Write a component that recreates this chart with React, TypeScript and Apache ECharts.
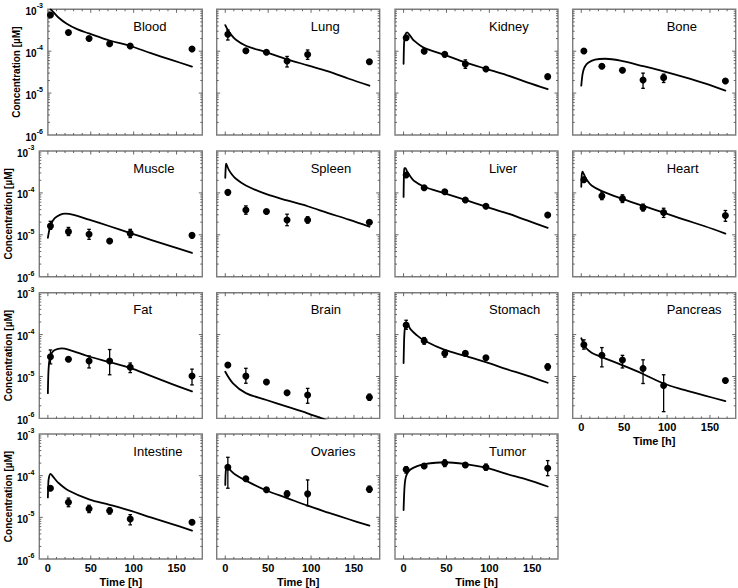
import React, { useEffect, useRef } from "react";
import * as echarts from "echarts";

const FONT = "'Liberation Sans', Arial, Helvetica, sans-serif";

// ---------- data ----------
const organNames = [
  "Blood", "Lung", "Kidney", "Bone",
  "Muscle", "Spleen", "Liver", "Heart",
  "Fat", "Brain", "Stomach", "Pancreas",
  "Intestine", "Ovaries", "Tumor",
];

const xTickLabels = [0, 50, 100, 150];
const yDecades = [1e-6, 1e-5, 1e-4, 1e-3];

// observed: [time h, mean, low, high]  (low === high -> no error bar)
const bloodObs = [[3, 7.3e-4, 7.3e-4, 7.3e-4], [24, 2.8e-4, 2.8e-4, 2.8e-4], [48, 2.0e-4, 2.0e-4, 2.0e-4], [72, 1.5e-4, 1.5e-4, 1.5e-4], [96, 1.33e-4, 1.33e-4, 1.33e-4], [168, 1.13e-4, 1.13e-4, 1.13e-4]];
const bloodModel = [[3, 1.0e-3], [5, 9.2e-4], [12, 6.45e-4], [22, 4.5e-4], [34, 3.35e-4], [48, 2.65e-4], [72, 1.8e-4], [96, 1.33e-4], [120, 9.0e-5], [144, 6.2e-5], [168, 4.3e-5]];

const lungObs = [[3, 2.53e-4, 1.85e-4, 3.2e-4], [24, 1.03e-4, 9.3e-5, 1.12e-4], [48, 9.4e-5, 9.4e-5, 9.4e-5], [72, 5.85e-5, 4.2e-5, 7.5e-5], [96, 8.3e-5, 6.4e-5, 1.07e-4], [168, 5.6e-5, 5.0e-5, 6.3e-5]];
const lungModel = [[0, 4.2e-4], [3, 3.2e-4], [6, 2.6e-4], [12, 1.9e-4], [24, 1.35e-4], [48, 9.4e-5], [72, 6.4e-5], [96, 4.6e-5], [120, 3.3e-5], [144, 2.2e-5], [168, 1.5e-5]];

const kidneyObs = [[3, 2.1e-4, 1.85e-4, 2.35e-4], [24, 1.0e-4, 1.0e-4, 1.0e-4], [48, 8.4e-5, 8.4e-5, 8.4e-5], [72, 4.95e-5, 3.9e-5, 6.2e-5], [96, 3.77e-5, 3.77e-5, 3.77e-5], [168, 2.47e-5, 2.47e-5, 2.47e-5]];
const kidneyModel = [[0, 5e-5], [0.5, 1.4e-4], [1, 2.0e-4], [2, 2.5e-4], [4, 2.8e-4], [8, 2.3e-4], [12, 1.8e-4], [24, 1.2e-4], [48, 8.2e-5], [72, 5.4e-5], [96, 3.8e-5], [120, 2.7e-5], [144, 1.8e-5], [168, 1.25e-5]];

const boneObs = [[3, 1.01e-4, 9.0e-5, 1.13e-4], [24, 4.36e-5, 4.36e-5, 4.36e-5], [48, 3.5e-5, 3.5e-5, 3.5e-5], [72, 2.06e-5, 1.3e-5, 3.0e-5], [96, 2.34e-5, 1.79e-5, 2.84e-5], [168, 1.95e-5, 1.95e-5, 1.95e-5]];
const boneModel = [[0, 1.5e-5], [1, 2.4e-5], [2, 3.2e-5], [4, 4.2e-5], [8, 5.3e-5], [16, 6.3e-5], [28, 6.6e-5], [48, 5.8e-5], [72, 4.4e-5], [96, 3.3e-5], [120, 2.4e-5], [144, 1.7e-5], [168, 1.15e-5]];

const muscleObs = [[3, 1.62e-5, 1.35e-5, 2.1e-5], [24, 1.19e-5, 9.6e-6, 1.5e-5], [48, 1.03e-5, 7.8e-6, 1.35e-5], [72, 7.1e-6, 7.1e-6, 7.1e-6], [96, 1.08e-5, 8.6e-6, 1.35e-5], [168, 9.7e-6, 8.8e-6, 1.07e-5]];
const muscleModel = [[0, 8.5e-6], [2, 1.4e-5], [4, 1.85e-5], [8, 2.5e-5], [14, 3.0e-5], [20, 3.2e-5], [30, 3.0e-5], [48, 2.3e-5], [72, 1.6e-5], [96, 1.1e-5], [120, 7.6e-6], [144, 5.3e-6], [168, 3.7e-6]];

const spleenObs = [[3, 1.03e-4, 1.03e-4, 1.03e-4], [24, 3.9e-5, 3.1e-5, 4.9e-5], [48, 3.6e-5, 3.6e-5, 3.6e-5], [72, 2.25e-5, 1.65e-5, 3.1e-5], [96, 2.25e-5, 1.9e-5, 2.7e-5], [168, 1.99e-5, 1.99e-5, 1.99e-5]];
const spleenModel = [[0, 2.3e-4], [0.5, 4.0e-4], [1, 5.0e-4], [2, 4.5e-4], [4, 3.6e-4], [8, 2.7e-4], [12, 2.2e-4], [24, 1.5e-4], [48, 9.3e-5], [72, 6.6e-5], [96, 4.8e-5], [120, 3.3e-5], [144, 2.3e-5], [168, 1.56e-5]];

const liverObs = [[3, 2.67e-4, 2.4e-4, 2.95e-4], [24, 1.33e-4, 1.2e-4, 1.45e-4], [48, 1.07e-4, 1.07e-4, 1.07e-4], [72, 6.8e-5, 6.8e-5, 6.8e-5], [96, 4.8e-5, 4.8e-5, 4.8e-5], [168, 2.97e-5, 2.97e-5, 2.97e-5]];
const liverModel = [[0, 8e-5], [0.5, 3.0e-4], [1, 3.9e-4], [2, 3.9e-4], [4, 3.3e-4], [8, 2.45e-4], [12, 1.95e-4], [24, 1.4e-4], [48, 9.8e-5], [72, 6.8e-5], [96, 4.7e-5], [120, 3.3e-5], [144, 2.2e-5], [168, 1.47e-5]];

const heartObs = [[3, 2.07e-4, 1.85e-4, 2.3e-4], [24, 8.4e-5, 6.9e-5, 1.05e-4], [48, 7.3e-5, 5.9e-5, 9.0e-5], [72, 4.45e-5, 3.7e-5, 5.4e-5], [96, 3.4e-5, 2.6e-5, 4.3e-5], [168, 2.9e-5, 2.1e-5, 3.8e-5]];
const heartModel = [[0, 1.4e-4], [0.5, 2.6e-4], [1.5, 3.2e-4], [3, 2.8e-4], [6, 2.1e-4], [12, 1.5e-4], [24, 1.1e-4], [48, 7.2e-5], [72, 4.9e-5], [96, 3.4e-5], [120, 2.3e-5], [144, 1.6e-5], [168, 1.07e-5]];

const fatObs = [[3, 2.97e-5, 2.0e-5, 4.3e-5], [24, 2.57e-5, 2.3e-5, 2.85e-5], [48, 2.34e-5, 1.6e-5, 3.1e-5], [72, 2.34e-5, 1.1e-5, 4.4e-5], [96, 1.66e-5, 1.24e-5, 2.1e-5], [168, 1.03e-5, 6.3e-6, 1.5e-5]];
const fatModel = [[0, 4e-6], [0.5, 1.1e-5], [1, 1.7e-5], [2, 2.6e-5], [4, 3.5e-5], [8, 4.3e-5], [16, 4.7e-5], [24, 4.4e-5], [48, 3.0e-5], [72, 2.2e-5], [96, 1.6e-5], [120, 1.03e-5], [144, 6.7e-6], [168, 4.4e-6]];

const brainObs = [[3, 1.88e-5, 1.88e-5, 1.88e-5], [24, 1.02e-5, 6.9e-6, 1.57e-5], [48, 7.4e-6, 7.4e-6, 7.4e-6], [72, 4.1e-6, 4.1e-6, 4.1e-6], [96, 3.6e-6, 2.3e-6, 5.2e-6], [168, 3.2e-6, 2.7e-6, 3.8e-6]];
const brainModel = [[0, 1.3e-5], [9, 6.9e-6], [24, 4.0e-6], [48, 2.75e-6], [72, 1.9e-6], [96, 1.32e-6], [120, 8.8e-7]];

const stomachObs = [[3, 1.69e-4, 1.34e-4, 2.2e-4], [24, 7.1e-5, 5.9e-5, 8.5e-5], [48, 3.56e-5, 2.9e-5, 4.3e-5], [72, 3.56e-5, 3.56e-5, 3.56e-5], [96, 2.8e-5, 2.8e-5, 2.8e-5], [168, 1.71e-5, 1.42e-5, 2.0e-5]];
const stomachModel = [[0, 2.1e-5], [0.5, 6e-5], [1, 1.1e-4], [2, 1.6e-4], [4, 1.8e-4], [8, 1.35e-4], [15, 9.8e-5], [24, 7.2e-5], [48, 4.3e-5], [72, 3.1e-5], [96, 2.2e-5], [120, 1.5e-5], [144, 1.05e-5], [168, 7.1e-6]];

const pancreasObs = [[3, 5.7e-5, 4.5e-5, 7.5e-5], [24, 3.2e-5, 1.7e-5, 4.9e-5], [48, 2.48e-5, 1.6e-5, 3.2e-5], [72, 1.56e-5, 6.8e-6, 2.5e-5], [96, 6.1e-6, 1.45e-6, 1.1e-5], [168, 8e-6, 8e-6, 8e-6]];
const pancreasModel = [[0, 8.2e-5], [2, 6.5e-5], [4, 5.2e-5], [12, 3.7e-5], [24, 2.9e-5], [48, 1.85e-5], [72, 1.15e-5], [96, 6.8e-6], [120, 4.8e-6], [144, 3.5e-6], [168, 2.6e-6]];

const intestineObs = [[3, 5.0e-5, 5.0e-5, 5.0e-5], [24, 2.31e-5, 1.8e-5, 2.9e-5], [48, 1.6e-5, 1.3e-5, 1.95e-5], [72, 1.44e-5, 1.2e-5, 1.7e-5], [96, 9.1e-6, 6.6e-6, 1.16e-5], [168, 7.6e-6, 7.6e-6, 7.6e-6]];
const intestineModel = [[0, 3e-5], [0.5, 6.5e-5], [1, 8.5e-5], [3, 1.1e-4], [6, 9.5e-5], [12, 6.8e-5], [24, 4.4e-5], [48, 2.7e-5], [72, 2.0e-5], [96, 1.45e-5], [120, 1.0e-5], [144, 7.0e-6], [168, 4.8e-6]];

const ovariesObs = [[3, 1.59e-4, 5.0e-5, 2.76e-4], [24, 8.4e-5, 8.4e-5, 8.4e-5], [48, 4.57e-5, 4.57e-5, 4.57e-5], [72, 3.66e-5, 3.1e-5, 4.3e-5], [96, 3.66e-5, 1.9e-5, 7.9e-5], [168, 4.7e-5, 4.0e-5, 5.6e-5]];
const ovariesModel = [[0, 6e-5], [0.5, 1.2e-4], [1.5, 1.7e-4], [3, 1.6e-4], [6, 1.35e-4], [12, 1.05e-4], [24, 7.6e-5], [48, 4.4e-5], [72, 2.9e-5], [96, 1.9e-5], [120, 1.3e-5], [144, 9e-6], [168, 6.3e-6]];

const tumorObs = [[3, 1.4e-4, 1.15e-4, 1.65e-4], [24, 1.7e-4, 1.5e-4, 1.9e-4], [48, 2.0e-4, 1.65e-4, 2.4e-4], [72, 1.8e-4, 1.6e-4, 2.0e-4], [96, 1.6e-4, 1.35e-4, 1.9e-4], [168, 1.5e-4, 1.0e-4, 2.3e-4]];
const tumorModel = [[0, 1.5e-5], [1, 5e-5], [2, 8e-5], [4, 1.1e-4], [8, 1.4e-4], [16, 1.7e-4], [24, 1.9e-4], [48, 2.1e-4], [72, 1.9e-4], [96, 1.55e-4], [120, 1.1e-4], [144, 8e-5], [168, 5.5e-5]];

const obsList = [bloodObs, lungObs, kidneyObs, boneObs, muscleObs, spleenObs, liverObs, heartObs, fatObs, brainObs, stomachObs, pancreasObs, intestineObs, ovariesObs, tumorObs];
const modelList = [bloodModel, lungModel, kidneyModel, boneModel, muscleModel, spleenModel, liverModel, heartModel, fatModel, brainModel, stomachModel, pancreasModel, intestineModel, ovariesModel, tumorModel];

// ---------- layout ----------
const colLeft = [39.3, 216.7, 395, 572.7];
const rowTop = [9.3, 151, 292.7, 434];
const PW = 163;
const PH = 125.7;
const X_MIN = -10;
const X_MAX = 180;
const PX_PER_H = PW / (X_MAX - X_MIN);
const FRAME = "#7c7c7c";
const TICK = "#555";

function buildOption() {
  const grid: any[] = [];
  const xAxis: any[] = [];
  const yAxis: any[] = [];
  const series: any[] = [];
  const graphic: any[] = [];

  organNames.forEach((name, i) => {
    const r = Math.floor(i / 4);
    const c = i % 4;
    const xmin = name === "Blood" ? 0 : X_MIN;
    const shift = (xmin - X_MIN) * PX_PER_H;
    const left = colLeft[c] + shift;
    const width = PW - shift;
    grid.push({
      left, top: rowTop[r], width, height: PH,
      show: true, borderColor: FRAME, borderWidth: 1.4, backgroundColor: "#fff",
      containLabel: false,
    });
    const showX = r === 3 || i === 11;
    const showY = c === 0;
    xAxis.push({
      gridIndex: i, type: "value", min: xmin, max: X_MAX, splitNumber: 4,
      axisLine: { show: false }, axisTick: { show: false }, splitLine: { show: false },
      axisLabel: {
        show: showX, showMinLabel: false, showMaxLabel: false, margin: 3,
        formatter: (v: number) => (xTickLabels.includes(v) ? String(v) : ""),
        fontFamily: FONT, fontSize: 11, fontWeight: "bold", color: "#000",
      },
      name: showX ? "Time [h]" : "", nameLocation: "middle", nameGap: 17,
      nameTextStyle: { fontFamily: FONT, fontSize: 11, fontWeight: "bold", color: "#000" },
    });
    yAxis.push({
      gridIndex: i, type: "log", logBase: 10, min: 1e-6, max: 1e-3,
      axisLine: { show: false }, axisTick: { show: false }, splitLine: { show: false },
      minorTick: { show: false },
      axisLabel: {
        show: showY, margin: 5,
        formatter: (v: number) => `{b|10}{s|${Math.round(Math.log10(v))}}`,
        rich: {
          b: { fontFamily: FONT, fontSize: 10, fontWeight: "bold", color: "#000", lineHeight: 14, verticalAlign: "bottom" },
          s: { fontFamily: FONT, fontSize: 7, fontWeight: "bold", color: "#000", lineHeight: 14, verticalAlign: "top" },
        },
      },
      name: showY ? "Concentration [µM]" : "", nameLocation: "middle", nameRotate: 90, nameGap: 25,
      nameTextStyle: { fontFamily: FONT, fontSize: 10, fontWeight: "bold", color: "#000" },
    });

    // frame ticks (all four sides)
    const tickData: number[][] = [];
    for (let t = xmin; t <= X_MAX; t += 10) {
      if (t === xmin || t === X_MAX) continue;
      tickData.push([t, 1e-6, xTickLabels.includes(t) ? 1 : 0, 0]);
    }
    yDecades.forEach((d, k) => {
      if (k > 0 && k < yDecades.length - 1) tickData.push([xmin, d, 1, 1]);
      if (k < yDecades.length - 1) {
        for (let m = 2; m <= 9; m++) tickData.push([xmin, d * m, 0, 1]);
      }
    });
    series.push({
      type: "custom", xAxisIndex: i, yAxisIndex: i, silent: true, z: 1,
      data: tickData,
      renderItem: (params: any, api: any) => {
        const cs = params.coordSys;
        const major = api.value(2) === 1;
        const len = major ? 3.5 : 2;
        const st = { stroke: TICK, lineWidth: 0.9 };
        if (api.value(3) === 0) {
          const x = api.coord([api.value(0), 1e-6])[0];
          return {
            type: "group", children: [
              { type: "line", shape: { x1: x, y1: cs.y + cs.height, x2: x, y2: cs.y + cs.height - len }, style: st },
              { type: "line", shape: { x1: x, y1: cs.y, x2: x, y2: cs.y + len }, style: st },
            ],
          };
        }
        const y = api.coord([api.value(0), api.value(1)])[1];
        return {
          type: "group", children: [
            { type: "line", shape: { x1: cs.x, y1: y, x2: cs.x + len, y2: y }, style: st },
            { type: "line", shape: { x1: cs.x + cs.width, y1: y, x2: cs.x + cs.width - len, y2: y }, style: st },
          ],
        };
      },
    });

    // model curve
    series.push({
      type: "line", xAxisIndex: i, yAxisIndex: i, data: modelList[i],
      showSymbol: false, symbol: "none", smooth: 0.35, clip: true,
      lineStyle: { color: "#000", width: 1.8, join: "round", cap: "round" }, z: 3, silent: true,
    });

    // error bars
    const errData = obsList[i].filter((o) => o[3] > o[2]);
    series.push({
      type: "custom", xAxisIndex: i, yAxisIndex: i, silent: true, z: 4,
      data: errData,
      renderItem: (_p: any, api: any) => {
        const t = api.value(0);
        const a = api.coord([t, api.value(2)]);
        const b = api.coord([t, api.value(3)]);
        const w = 1.8;
        const st = { stroke: "#000", lineWidth: 1.3 };
        return {
          type: "group", children: [
            { type: "line", shape: { x1: a[0], y1: a[1], x2: b[0], y2: b[1] }, style: st },
            { type: "line", shape: { x1: a[0] - w, y1: a[1], x2: a[0] + w, y2: a[1] }, style: st },
            { type: "line", shape: { x1: b[0] - w, y1: b[1], x2: b[0] + w, y2: b[1] }, style: st },
          ],
        };
      },
    });

    // observed points
    series.push({
      type: "scatter", xAxisIndex: i, yAxisIndex: i,
      data: obsList[i].map((o) => [o[0], o[1]]),
      symbol: "circle", symbolSize: 7, itemStyle: { color: "#000", opacity: 1 }, z: 5, silent: true,
    });

    graphic.push({
      type: "text", x: colLeft[c] + 94, y: rowTop[r] + 17, silent: true,
      style: { text: name, fontFamily: FONT, fontSize: 13, fill: "#000", align: "left", verticalAlign: "middle" },
    });
  });

  return {
    animation: false,
    backgroundColor: "#fff",
    grid, xAxis, yAxis, series, graphic,
  };
}

export default function App() {
  const ref = useRef<HTMLDivElement>(null);
  useEffect(() => {
    const chart = echarts.init(ref.current!, null, { renderer: "svg" });
    chart.setOption(buildOption() as any);
    return () => chart.dispose();
  }, []);
  return (
    <div
      ref={ref}
      style={{ position: "fixed", left: 0, top: 0, width: 738, height: 588, background: "#fff" }}
    />
  );
}
